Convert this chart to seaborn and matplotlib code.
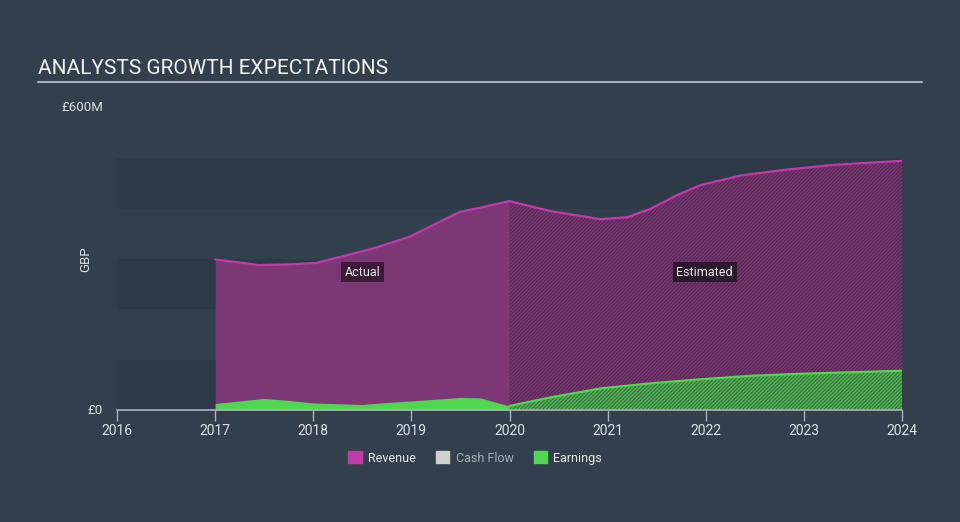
import matplotlib
matplotlib.use("Agg")
import matplotlib.pyplot as plt
import matplotlib.patches as mpatches
import seaborn as sns
import pandas as pd
import numpy as np

# Umsatz (Revenue), Mio. GBP
rev_years = [2017.0, 2017.3, 2017.44, 2017.71, 2018.03, 2018.27, 2018.61, 2018.98,
             2019.29, 2019.5, 2019.7, 2020.0, 2020.42, 2020.93, 2021.2, 2021.44,
             2021.71, 2021.95, 2022.36, 2022.8, 2023.3, 2024.0]
rev_values = [299, 292, 288, 289, 292, 304, 321, 344,
              374, 394, 402, 415, 395, 379, 383, 400,
              427, 447, 466, 477, 487, 495]

# Gewinn (Earnings), Mio. GBP
earn_years = [2017.0, 2017.25, 2017.5, 2017.75, 2018.0, 2018.5, 2018.75, 2019.0,
              2019.5, 2019.7, 2020.0, 2020.42, 2020.93, 2021.44, 2021.95, 2022.46,
              2022.97, 2023.48, 2024.0]
earn_values = [13, 18, 23, 19, 14, 11, 15, 18,
               25, 24, 8, 25, 43, 53, 61, 68,
               72, 75, 78]

split_year = 2020.0
x_ticks = [2016, 2017, 2018, 2019, 2020, 2021, 2022, 2023, 2024]
y_ticks = [0, 600]
y_tick_labels = ["£0", "£600M"]
legend_names = ["Revenue", "Cash Flow", "Earnings"]

rev = pd.DataFrame({"year": rev_years, "value": rev_values})
earn = pd.DataFrame({"year": earn_years, "value": earn_values})

bg = "#333f4d"
band_dark = "#2e3a48"
band_light = "#323f4d"
rev_fill = "#7b3874"
rev_line = "#c23aa9"
earn_col = "#4fd84f"

sns.set_style("dark", {"axes.facecolor": bg, "figure.facecolor": bg})
plt.rcParams["font.family"] = ["Roboto", "DejaVu Sans"]
plt.rcParams["hatch.linewidth"] = 0.7

fig = plt.figure(figsize=(9.6, 5.22), dpi=100)
ax = fig.add_axes([117 / 960, 1 - 410 / 522, (902 - 117) / 960, (410 - 108) / 522])
ax.set_facecolor(bg)

# Hintergrundbänder
for i in range(5):
    ax.axhspan(i * 100, (i + 1) * 100, color=band_dark if i % 2 == 0 else band_light, lw=0, zorder=0)

# Flächen: Ist (voll) und Schätzung (schraffiert)
act_r = rev[rev.year <= split_year]
est_r = rev[rev.year >= split_year]
act_e = earn[earn.year <= split_year]
est_e = earn[earn.year >= split_year]

ax.fill_between(act_r.year, 0, act_r.value, color=rev_fill, lw=0, zorder=1)
ax.fill_between(est_r.year, 0, est_r.value, facecolor="#763670", edgecolor="#53284f",
                hatch="/" * 9, lw=0, zorder=1)
ax.fill_between(act_e.year, 0, act_e.value, color=earn_col, lw=0, zorder=2)
ax.fill_between(est_e.year, 0, est_e.value, facecolor="#4fae4f", edgecolor="#3b6d44",
                hatch="/" * 9, lw=0, zorder=2)

sns.lineplot(data=rev, x="year", y="value", color=rev_line, lw=1.6, ax=ax, zorder=3)
sns.lineplot(data=est_e, x="year", y="value", color=earn_col, lw=1.6, ax=ax, zorder=3)

ax.set_xlim(2016, 2024)
ax.set_ylim(0, 600)
ax.set_xticks(x_ticks)
ax.set_xticklabels([str(t) for t in x_ticks])
ax.set_yticks(y_ticks)
ax.set_yticklabels(y_tick_labels)
ax.tick_params(axis="x", colors="#a9b2bc", labelcolor="#dde1e5", labelsize=10,
               length=8, width=1, direction="out", pad=2, bottom=True)
ax.tick_params(axis="y", labelcolor="#dde1e5", labelsize=9.5, length=0, pad=10)
for t in ax.get_yticklabels():
    t.set_verticalalignment("center")
for s in ["top", "right", "left"]:
    ax.spines[s].set_visible(False)
ax.spines["bottom"].set_color("#a9b2bc")
ax.spines["bottom"].set_linewidth(1.2)
ax.grid(False)
ax.set_xlabel("")
ax.set_ylabel("GBP", color="#dde1e5", fontsize=9.5)
ax.yaxis.set_label_coords(-0.032, 0.5)

# Markierungen Ist / Schätzung
box_kw = dict(ha="center", va="center", color="#e8e8e8", fontsize=9, zorder=5)
ax.text(2018.5, 274, "Actual",
        bbox=dict(boxstyle="square,pad=0.3", fc="#3c1a38", ec="none"), **box_kw)
ax.text(2021.99, 274, "Estimated",
        bbox=dict(boxstyle="square,pad=0.3", fc="#2b1a2b", ec="none"), **box_kw)

# Titel und Linie
fig.text(38 / 960, 1 - 69 / 522, "ANALYSTS GROWTH EXPECTATIONS", color="#f2f2f2",
         fontsize=15, va="center", ha="left")
fig.add_artist(plt.Line2D([38 / 960, 922 / 960], [1 - 82 / 522, 1 - 82 / 522],
                          color="#a9b0b8", lw=1.5))

# Legende
handles = [mpatches.Patch(color=rev_line), mpatches.Patch(color="#d0d0d0"),
           mpatches.Patch(color=earn_col)]
leg = fig.legend(handles, legend_names, loc="center", bbox_to_anchor=(475 / 960, 1 - 458 / 522),
                 ncol=3, frameon=False, fontsize=9, handlelength=1.1, handleheight=1.1,
                 handletextpad=0.5, columnspacing=1.6)
for t, c in zip(leg.get_texts(), ["#e8e8e8", "#a8adb3", "#e8e8e8"]):
    t.set_color(c)

fig.savefig("out.png", dpi=100, facecolor=bg)
